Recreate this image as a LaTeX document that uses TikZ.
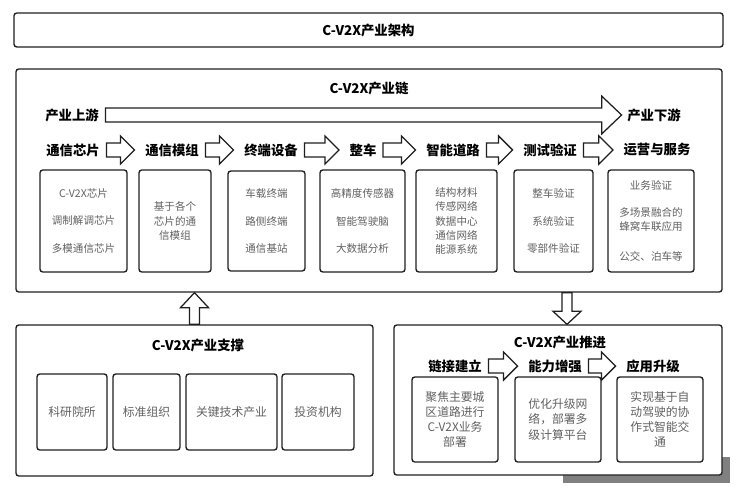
\documentclass[tikz,border=0pt]{standalone}
\usepackage{fontspec}
\setmainfont{Noto Sans CJK SC}
\usepackage{xcolor}
\colorlet{colorFrame}{black!88}
\colorlet{colorBody}{black!62}
\colorlet{colorShadow}{black!50}
\usetikzlibrary{positioning, calc}
\tikzset{
  frame/.style={draw=colorFrame, line width=0.95pt, rounded corners=2pt, fill=white, inner sep=0pt},
  sz/.style 2 args={minimum width=#1*0.025cm, minimum height=#2*0.025cm},
  title/.style={font=\fontsize{9.5}{11}\selectfont\bfseries},
  stage/.style={font=\fontsize{9.5}{11}\selectfont\bfseries, inner sep=1pt},
  body/.style={font=\fontsize{7.5}{10}\selectfont, text=colorBody, align=center},
  bodyL/.style={font=\fontsize{8.4}{10.8}\selectfont, text=colorBody, align=center},
  blockarrow/.style={draw=colorFrame, line width=0.9pt, fill=white, line join=miter},
}
\newcommand\harrow[5]{\draw[blockarrow] let \p1=(#1), \p2=(#2) in
  (\x1,\y1+#3) -- (\x2-#5,\y1+#3) -- (\x2-#5,\y1+#4) -- (\x2,\y1) -- (\x2-#5,\y1-#4) -- (\x2-#5,\y1-#3) -- (\x1,\y1-#3) -- cycle;}
\newcommand\varrow[5]{\draw[blockarrow] let \p1=(#1), \p2=(#2), \n1={sign(\y2-\y1)} in
  (\x1+#3,\y1) -- (\x1+#3,{\y2-\n1*#5}) -- (\x1+#4,{\y2-\n1*#5}) -- (\x1,\y2) -- (\x1-#4,{\y2-\n1*#5}) -- (\x1-#3,{\y2-\n1*#5}) -- (\x1-#3,\y1) -- cycle;}

\begin{document}
\begin{tikzpicture}[x=0.025cm, y=-0.025cm]
\useasboundingbox (0,0) rectangle (740,498);
\fill[colorShadow] (563,457) rectangle (730,483);

\node[frame, sz={709}{34}, title] (arch) at (368.5,30) {C-V2X产业架构};

\node[frame, sz={706}{223}] (chain) at (369,180.5) {};
\node[title] (chaintitle) at (369,88) {C-V2X产业链};
\node[stage] (up) at (72,115) {产业上游};
\node[stage] (down) at (654,115) {产业下游};
\harrow{$(up.east)+(5,0)$}{$(down.west)+(-4,0)$}{5pt}{13.5pt}{14.2pt}

\node[stage] (s1) at (73,150) {通信芯片};
\node[stage] (s2) at (172,150) {通信模组};
\node[stage] (s3) at (271,150) {终端设备};
\node[stage] (s4) at (363,150) {整车};
\node[stage] (s5) at (453,150) {智能道路};
\node[stage] (s6) at (550,150) {测试验证};
\node[stage] (s7) at (657,150) {运营与服务};
\foreach \a/\b in {s1/s2, s2/s3, s3/s4, s4/s5, s5/s6, s6/s7}
  \harrow{$(\a.east)+(5,0)$}{$(\b.west)+(-9,0)$}{5pt}{10pt}{10pt};

\node[frame, sz={87}{102}, body] (b1) at (83.5,221) {C-V2X芯片\\[9.5pt]调制解调芯片\\[9.5pt]多模通信芯片};
\node[frame, sz={72}{102}, body] (b2) at (175,221) {基于各个\\芯片的通\\信模组};
\node[frame, sz={77}{100}, body] (b3) at (266.5,221) {车载终端\\[9.5pt]路侧终端\\[9.5pt]通信基站};
\node[frame, sz={85}{102}, body] (b4) at (362.5,221) {高精度传感器\\[9.5pt]智能驾驶脑\\[9.5pt]大数据分析};
\node[frame, sz={81}{102}, body] (b5) at (456.5,221) {结构材料\\传感网络\\数据中心\\通信网络\\能源系统};
\node[frame, sz={79}{102}, body] (b6) at (553.5,221) {整车验证\\[9.5pt]系统验证\\[9.5pt]零部件验证};
\node[frame, sz={86}{102}, body] (b7) at (651,221) {业务验证\\[9pt]多场景融合的\\蜂窝车联应用\\[11pt]公交、泊车等};

\node[frame, sz={357}{151}] (support) at (194.5,400.5) {};
\node[title] (supporttitle) at (198,345) {C-V2X产业支撑};
\node[frame, sz={70}{76}, bodyL] (r1) at (72,412) {科研院所};
\node[frame, sz={67}{76}, bodyL] (r2) at (146.5,412) {标准组织};
\node[frame, sz={91}{76}, bodyL] (r3) at (231.5,412) {关键技术产业};
\node[frame, sz={72}{76}, bodyL] (r4) at (318,412) {投资机构};
\varrow{support.north}{support.north |- chain.south}{3.6pt}{10pt}{10.7pt}

\node[frame, sz={328}{150}] (push) at (558,400) {};
\coordinate (pushin) at ($(push.north)+(9,0)$);
\varrow{chain.south -| pushin}{pushin}{3.6pt}{10pt}{9.3pt}
\node[title] (pushtitle) at (560,342) {C-V2X产业推进};
\node[stage] (p1) at (455,366) {链接建立};
\node[stage] (p2) at (555,366) {能力增强};
\node[stage] (p3) at (653,366) {应用升级};
\foreach \a/\b in {p1/p2, p2/p3}
  \harrow{$(\a.east)+(5,0)$}{$(\b.west)+(-9,0)$}{5pt}{10pt}{10pt};
\node[frame, sz={86}{85}, bodyL] (c1) at (455,419.5) {聚焦主要城\\区道路进行\\C-V2X业务\\部署};
\node[frame, sz={86}{85}, bodyL] (c2) at (558,419.5) {优化升级网\\络，部署多\\级计算平台};
\node[frame, sz={86}{85}, bodyL] (c3) at (660,419.5) {实现基于自\\动驾驶的协\\作式智能交\\通};
\end{tikzpicture}
\end{document}
